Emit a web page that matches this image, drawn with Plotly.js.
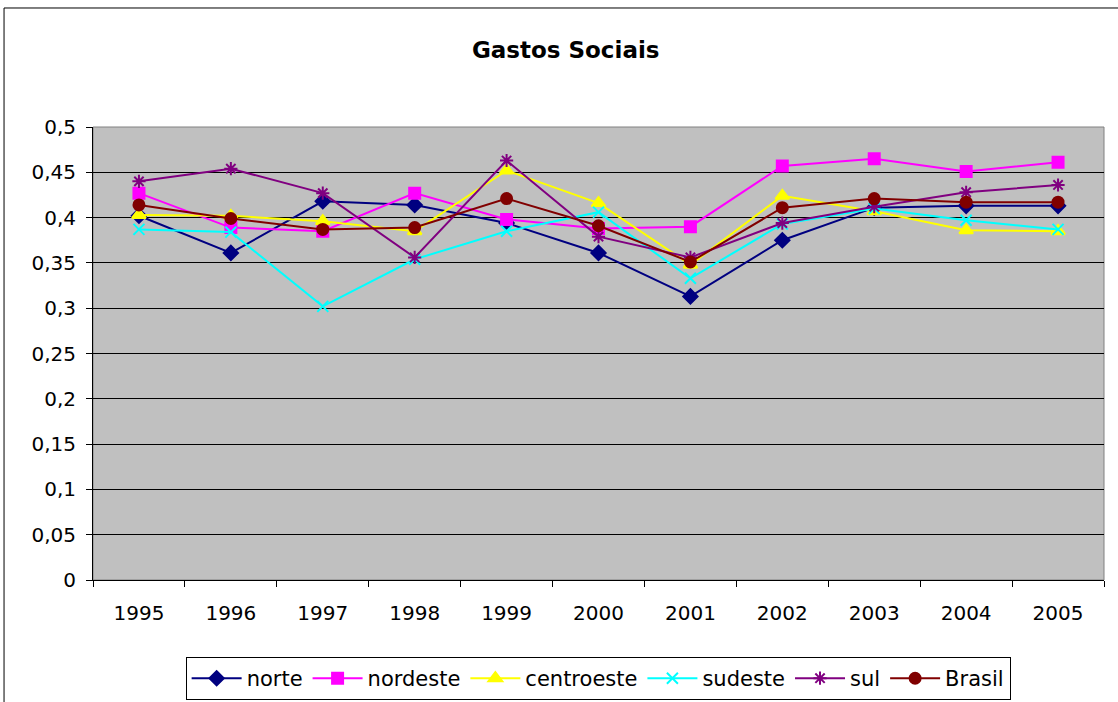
<!DOCTYPE html>
<html>
<head>
<meta charset="utf-8">
<script src="https://cdn.plot.ly/plotly-3.0.1.min.js"></script>
<style>html,body{margin:0;padding:0;background:#fff;}#chart{width:1118px;height:702px;}</style>
</head>
<body>
<div id="chart"></div>
<script>
const years = ["1995","1996","1997","1998","1999","2000","2001","2002","2003","2004","2005"];
const norte      = [0.402, 0.361, 0.418, 0.414, 0.394, 0.361, 0.313, 0.375, 0.411, 0.413, 0.413];
const nordeste   = [0.427, 0.389, 0.385, 0.427, 0.398, 0.388, 0.390, 0.457, 0.465, 0.451, 0.461];
const centroeste = [0.403, 0.402, 0.396, 0.385, 0.452, 0.416, 0.348, 0.424, 0.407, 0.386, 0.385];
const sudeste    = [0.387, 0.384, 0.302, 0.354, 0.385, 0.406, 0.333, 0.393, 0.410, 0.397, 0.387];
const sul        = [0.440, 0.454, 0.427, 0.356, 0.463, 0.379, 0.356, 0.394, 0.412, 0.428, 0.436];
const brasil     = [0.414, 0.399, 0.387, 0.389, 0.421, 0.391, 0.351, 0.411, 0.421, 0.417, 0.417];

const seriesNames = ["norte","nordeste","centroeste","sudeste","sul","Brasil"];
const seriesData = [norte, nordeste, centroeste, sudeste, sul, brasil];
const colors = ["#000080","#FF00FF","#FFFF00","#00FFFF","#800080","#800000"];
const symbols = ["diamond","square","triangle-up","x-thin-open","asterisk-open","circle"];
const sizes = [11, 11, 12, 11, 11, 11];

const traces = seriesNames.map((n, i) => ({
  type: "scatter",
  mode: "lines+markers",
  name: n,
  x: years,
  y: seriesData[i],
  line: {color: colors[i], width: 2},
  marker: {symbol: symbols[i], size: sizes[i], color: colors[i], line: {color: colors[i], width: 2}}
}));

const layout = {
  width: 1118, height: 702,
  margin: {l: 93, r: 14, t: 127, b: 122},
  paper_bgcolor: "#ffffff",
  plot_bgcolor: "#c0c0c0",
  separators: ", ",
  font: {family: "DejaVu Sans, sans-serif", size: 20, color: "#000"},
  title: {text: "<b>Gastos Sociais</b>", x: 0.506, xref: "container", xanchor: "center", y: 0.929, yref: "container", yanchor: "middle", font: {size: 23, family: "DejaVu Sans, sans-serif"}},
  showlegend: true,
  legend: {orientation: "h", x: 0.535, xref: "container", xanchor: "center", y: 0.064, yref: "container", yanchor: "top", itemwidth: 50, bordercolor: "#000", borderwidth: 1, bgcolor: "#fff", font: {size: 21}},
  xaxis: {type: "category", range: [-0.5, 10.5], showgrid: false, showline: true, linecolor: "#000", linewidth: 1, ticks: "outside", tickson: "boundaries", ticklen: 6, tickcolor: "#000", ticklabelstandoff: 15, zeroline: false, fixedrange: true, automargin: false},
  yaxis: {range: [0, 0.5], dtick: 0.05, tick0: 0, showgrid: true, gridcolor: "#000", gridwidth: 1, showline: true, linecolor: "#000", linewidth: 1, ticks: "outside", ticklen: 6, tickcolor: "#000", ticklabelstandoff: 6, zeroline: false, fixedrange: true, automargin: false},
  shapes: [
    {type: "rect", xref: "paper", yref: "paper", x0: 0, x1: 1, y0: 0, y1: 1, line: {color: "#808080", width: 1}, fillcolor: "rgba(0,0,0,0)", layer: "below"},
    {type: "line", xref: "paper", yref: "paper", x0: -0.088, x1: 1.2, y0: 1.2627, y1: 1.2627, line: {color: "#000", width: 1}},
    {type: "line", xref: "paper", yref: "paper", x0: -0.088, x1: -0.088, y0: 1.2627, y1: -0.5, line: {color: "#000", width: 1}}
  ]
};

Plotly.newPlot("chart", traces, layout, {displayModeBar: false, staticPlot: true});
</script>
</body>
</html>
